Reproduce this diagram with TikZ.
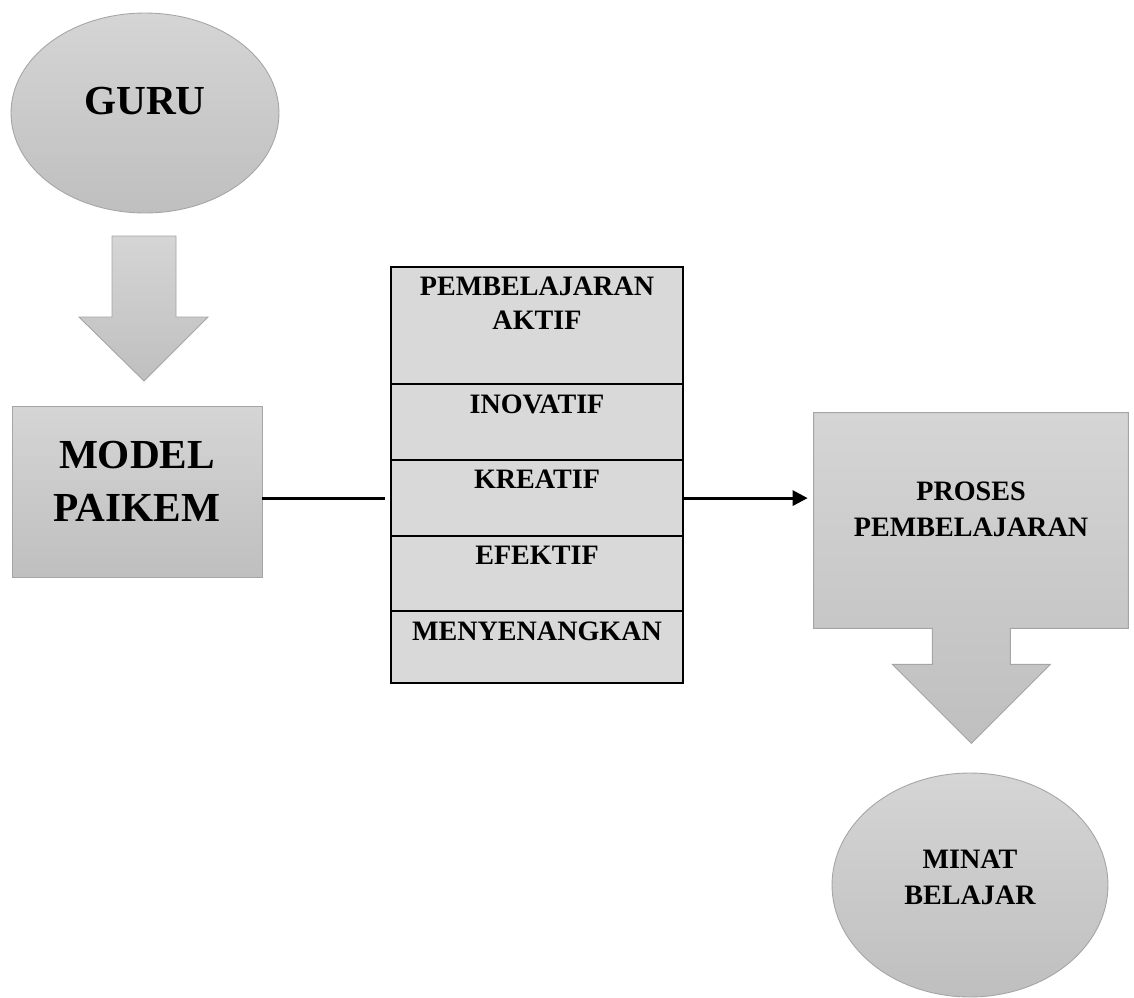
\documentclass[tikz,border=0pt]{standalone}
\usepackage{fontspec}
\setmainfont{Liberation Serif}
\usepackage{tikz}
\usetikzlibrary{shapes.geometric, arrows.meta, positioning, backgrounds}
\definecolor{shadetop}{HTML}{D5D5D5}
\definecolor{shadebot}{HTML}{BFBFBF}
\definecolor{rimgray}{HTML}{A5A5A5}
\definecolor{cellgray}{HTML}{D9D9D9}
\tikzset{
    link/.style={line width=1.7pt, shorten >=0.12cm},
    linkarrow/.style={link, -{Triangle[length=0.3cm, width=0.3cm]}},
    shadefill/.style={draw=rimgray, line width=0.5pt, top color=shadetop, bottom color=shadebot},
    bubble/.style={ellipse, shadefill, align=center},
    block/.style={rectangle, shadefill, align=center},
    cell/.style={rectangle, draw, line width=0.6pt, fill=cellgray, minimum width=5.82cm, inner sep=0pt},
    bigtxt/.style={font=\fontsize{23.5}{30}\selectfont\bfseries},
    smalltxt/.style={font=\fontsize{16}{20.5}\selectfont\bfseries},
    celltxt/.style={font=\fontsize{16}{19}\selectfont\bfseries, align=center, inner sep=0pt}
}

\begin{document}
\begin{tikzpicture}[x=0.02cm, y=-0.02cm]
    \useasboundingbox (0,0) rectangle (1134,998);

    % left column
    \node (guru) [bubble, bigtxt, minimum width=5.36cm, minimum height=4cm, text depth=0.48cm] at (145,113) {GURU};
    \path [shadefill] (112,236) -- (176,236) -- (176,317) -- (208,317) -- (144,381) -- (79,317) -- (112,317) -- cycle;
    \node (model) [block, bigtxt, minimum width=5cm, minimum height=3.42cm, text depth=0.4cm] at (137,491.5) {MODEL\\PAIKEM};

    % stack of PAIKEM parts
    \node (c1) [cell, anchor=north west, minimum height=2.32cm, label={[celltxt, below=0.2cm]north:{PEMBELAJARAN\\AKTIF}}] at (391,267) {};
    \node (c2) [cell, below=0pt of c1, minimum height=1.5cm, label={[celltxt, below=0.2cm]north:INOVATIF}] {};
    \node (c3) [cell, below=0pt of c2, minimum height=1.5cm, label={[celltxt, below=0.2cm]north:KREATIF}] {};
    \node (c4) [cell, below=0pt of c3, minimum height=1.48cm, label={[celltxt, below=0.2cm]north:EFEKTIF}] {};
    \node (c5) [cell, below=0pt of c4, minimum height=1.42cm, label={[celltxt, below=0.2cm]north:MENYENANGKAN}] {};
    \draw [line width=1.2pt] (c1.north west) rectangle (c5.south east);

    % right column
    \node (proses) [smalltxt, align=center, minimum width=6.28cm, minimum height=4.3cm, text depth=0.44cm] at (971,520.5) {PROSES\\PEMBELAJARAN};
    \begin{scope}[on background layer]
        \path [shadefill] (proses.north west) -- (proses.north east) -- (proses.south east)
            -- ++(-118,0) -- ++(0,36) -- ++(40,0) -- ++(-79,79) -- ++(-79,-79) -- ++(40,0) -- ++(0,-36)
            -- (proses.south west) -- cycle;
    \end{scope}
    \node (minat) [bubble, smalltxt, minimum width=5.52cm, minimum height=4.48cm, text depth=0.3cm] at (970,885) {MINAT\\BELAJAR};

    \draw [link] (c3.west -| model.east) -- (c3.west);
    \draw [linkarrow] (c3.east) -- (c3.east -| proses.west);
\end{tikzpicture}
\end{document}
